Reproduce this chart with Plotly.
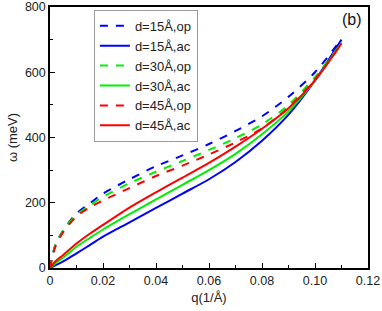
import plotly.graph_objects as go

q = [0, 0.002, 0.005, 0.01, 0.015, 0.02, 0.03, 0.04, 0.05, 0.06, 0.07, 0.08, 0.09, 0.10, 0.11]

op_15 = [0, 70, 115, 167, 198, 228, 272, 312, 345, 380, 420, 465, 525, 600, 702]
ac_15 = [0, 8, 20, 45, 70, 96, 140, 184, 228, 272, 325, 390, 470, 575, 700]
op_30 = [0, 70, 115, 163, 192, 218, 260, 295, 328, 362, 398, 440, 500, 585, 690]
ac_30 = [0, 14, 32, 65, 92, 118, 165, 210, 255, 300, 350, 410, 480, 575, 690]
op_45 = [0, 65, 110, 158, 186, 207, 245, 282, 314, 348, 385, 428, 492, 578, 688]
ac_45 = [0, 20, 40, 75, 105, 132, 185, 232, 277, 322, 372, 427, 490, 575, 688]

series = [
    ("d=15Å,op", op_15, "#0000ff", "dash"),
    ("d=15Å,ac", ac_15, "#0000ff", "solid"),
    ("d=30Å,op", op_30, "#00ee00", "dash"),
    ("d=30Å,ac", ac_30, "#00ee00", "solid"),
    ("d=45Å,op", op_45, "#ff0000", "dash"),
    ("d=45Å,ac", ac_45, "#ff0000", "solid"),
]

x_tickvals = [0, 0.02, 0.04, 0.06, 0.08, 0.10, 0.12]
x_ticktext = ["0", "0.02", "0.04", "0.06", "0.08", "0.10", "0.12"]
y_tickvals = [0, 200, 400, 600, 800]

FONT = "Arial, Liberation Sans, sans-serif"

fig = go.Figure()
for name, ys, color, dash in series:
    fig.add_trace(go.Scatter(
        x=q, y=ys, mode="lines", name=name,
        line=dict(color=color, width=2, dash=("8px,8px" if dash == "dash" else "solid"),
                  shape="spline", smoothing=0.8),
    ))

axis_common = dict(
    showgrid=False, zeroline=False, showline=True, linecolor="black", linewidth=1.5,
    mirror=True, ticks="inside", ticklen=5, tickwidth=1, tickcolor="black",
    tickfont=dict(family=FONT, size=12.5, color="#222"),
    minor=dict(ticks="inside", ticklen=3, tickwidth=1, tickcolor="black"),
    automargin=False,
)

fig.update_xaxes(range=[0, 0.12], tickvals=x_tickvals, ticktext=x_ticktext,
                 minor_dtick=0.01, minor_tick0=0,
                 title=dict(text="q(1/Å)", font=dict(family=FONT, size=13, color="#222"), standoff=6),
                 **axis_common)
fig.update_yaxes(range=[0, 800], tickvals=y_tickvals,
                 minor_dtick=100, minor_tick0=0,
                 title=dict(text="ω (meV)", font=dict(family=FONT, size=13, color="#222"), standoff=4),
                 **axis_common)

fig.add_annotation(text="(b)", x=0.95, y=0.954, xref="paper", yref="paper",
                   xanchor="center", yanchor="middle",
                   showarrow=False, font=dict(family=FONT, size=16, color="#111"))

fig.update_layout(
    width=382, height=311,
    margin=dict(l=50, r=14, t=7, b=43),
    plot_bgcolor="white", paper_bgcolor="white",
    showlegend=True,
    legend=dict(x=0.138, y=0.989, xanchor="left", yanchor="top",
                bgcolor="white", bordercolor="#999", borderwidth=1,
                font=dict(family=FONT, size=13, color="#222"),
                tracegroupgap=0, itemwidth=30),
)

fig.write_html("out.html", config={"displayModeBar": False},
               post_script="document.body.style.margin='0';document.body.style.overflow='hidden';")
